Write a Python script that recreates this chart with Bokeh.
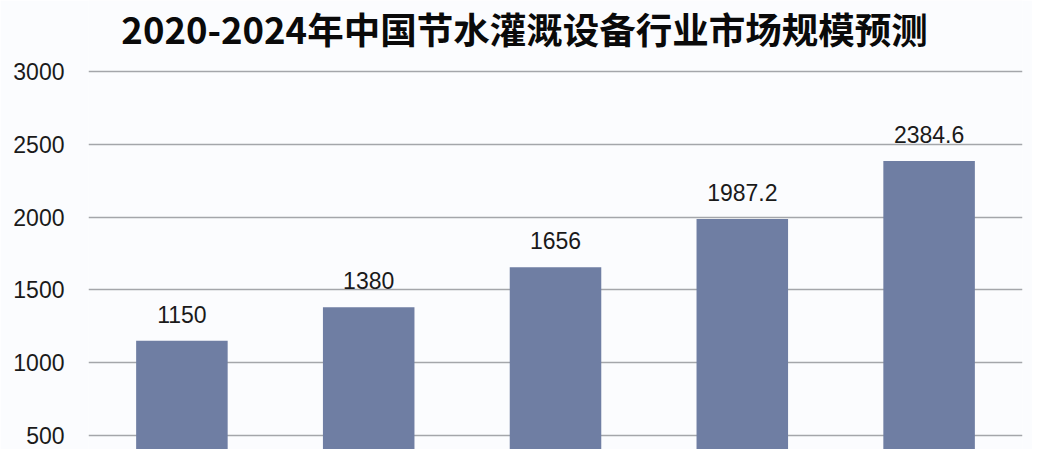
from bokeh.plotting import figure
from bokeh.models import ColumnDataSource, Range1d, FactorRange, FixedTicker, LabelSet
from bokeh.core.properties import value
from bokeh.embed import file_html
from bokeh.resources import INLINE

title_text = "2020-2024年中国节水灌溉设备行业市场规模预测"
years = ["2020", "2021", "2022", "2023", "2024"]
values = [1150, 1380, 1656, 1987.2, 2384.6]
value_labels = ["1150", "1380", "1656", "1987.2", "2384.6"]
y_ticks = [500, 1000, 1500, 2000, 2500, 3000]

src = ColumnDataSource(dict(x=years, top=values, lab=value_labels))
title_src = ColumnDataSource(dict(x=[years[2]], y=[3292], t=[title_text]))

p = figure(width=1032, height=449, output_backend="svg", toolbar_location=None,
           x_range=FactorRange(factors=years, range_padding=0),
           y_range=Range1d(403.8, 3487.6),
           min_border_left=88, min_border_right=10, min_border_top=0, min_border_bottom=0)

p.background_fill_color = "#fbfcfe"
p.border_fill_color = "#fbfcfe"
p.outline_line_color = None

p.vbar(x="x", top="top", bottom=0, width=0.49, source=src,
       fill_color="#6f7ea3", line_color=None)

p.text(x="x", y="y", text="t", source=title_src, x_offset=-31,
       text_align="center", text_baseline="alphabetic",
       text_font=value("Noto Sans CJK SC"), text_font_style="bold",
       text_font_size="36.5px", text_color="#0a0a0a")

labels = LabelSet(x="x", y="top", text="lab", source=src, text_align="center",
                  text_baseline="alphabetic", y_offset=18,
                  text_font=value("Liberation Sans"),
                  text_font_size="23px", text_color="#1a1a1a")
p.add_layout(labels)

p.xaxis.visible = False
p.xgrid.grid_line_color = None
p.ygrid.grid_line_color = "#a4a6aa"
p.ygrid.grid_line_width = 1.5

ya = p.yaxis[0]
ya.ticker = FixedTicker(ticks=y_ticks)
ya.axis_line_color = None
ya.major_tick_line_color = None
ya.minor_tick_line_color = None
ya.major_label_text_font = "Liberation Sans"
ya.major_label_text_font_size = "23px"
ya.major_label_text_color = "#1a1a1a"
ya.major_label_standoff = 18

open("out.html", "w").write(file_html(p, INLINE))
